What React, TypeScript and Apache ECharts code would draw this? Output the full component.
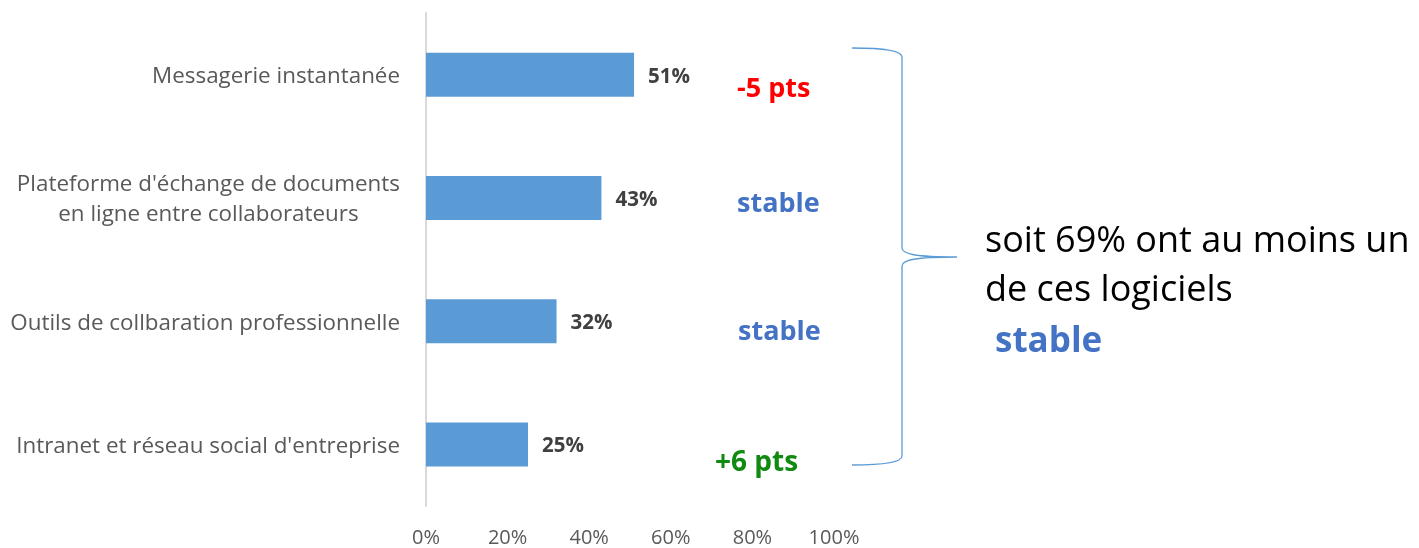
import React, { useEffect, useRef } from "react";
import * as echarts from "echarts";

const categories = [
  "Messagerie instantanée",
  "Plateforme d'échange de documents\nen ligne entre collaborateurs",
  "Outils de collbaration professionnelle",
  "Intranet et réseau social d'entreprise",
];
const values = [51, 43, 32, 25];
const changes = ["-5 pts", "stable", "stable", "+6 pts"];
const changeColors = ["#FF0000", "#4472C4", "#4472C4", "#118A11"];
const summaryLines = ["soit 69% ont au moins un", "de ces logiciels"];
const summaryChange = "stable";

const FONT = "'Open Sans', 'Noto Sans', sans-serif";

echarts.graphic.registerShape(
  "brace",
  echarts.graphic.extendPath(
    "M852,48 C880,48 902,50 902,57 L902,248 C902,254 915,257 957,257 C915,257 902,260 902,266 L902,456 C902,463 880,465 852,465",
    {}
  )
);

export default function App() {
  const ref = useRef<HTMLDivElement>(null);
  useEffect(() => {
    const chart = echarts.init(ref.current!, null, { renderer: "svg" });
    const changePos = [
      [737, 86],
      [737, 201],
      [738, 329],
      [715, 460],
    ];
    const changeSizes = [27, 27, 27, 28];
    chart.setOption({
      animation: false,
      grid: { left: 426, top: 13, width: 408, height: 493 },
      xAxis: {
        type: "value",
        min: 0,
        max: 100,
        interval: 20,
        axisLine: { show: false },
        axisTick: { show: false },
        splitLine: { show: false },
        axisLabel: {
          formatter: "{value}%",
          color: "#595959",
          fontSize: 20,
          lineHeight: 18,
          fontFamily: FONT,
          margin: 21,
        },
      },
      yAxis: {
        type: "category",
        inverse: true,
        data: categories,
        axisLine: { show: true, lineStyle: { color: "#D9D9D9", width: 2 } },
        axisTick: { show: false },
        axisLabel: {
          margin: 26,
          formatter: (v: string) =>
            v
              .split("\n")
              .map((l) => `{c|${l}}`)
              .join("\n"),
          rich: {
            c: {
              align: "center",
              color: "#595959",
              fontSize: 22.4,
              fontFamily: FONT,
              lineHeight: 30,
            },
          },
        },
      },
      series: [
        {
          type: "bar",
          data: values,
          barWidth: 44,
          itemStyle: { color: "#5B9BD5" },
          label: {
            show: true,
            position: "right",
            distance: 14,
            formatter: "{c}%",
            color: "#404040",
            fontWeight: "bold",
            fontSize: 20.5,
            fontFamily: FONT,
          },
        },
      ],
      graphic: [
        {
          type: "brace",
          shape: {},
          style: { fill: null, stroke: "#5B9BD5", lineWidth: 1.3 },
        },
        ...changes.map((t, i) => ({
          type: "text",
          x: changePos[i][0],
          y: changePos[i][1],
          style: {
            text: t,
            fill: changeColors[i],
            font: `bold ${changeSizes[i]}px ${FONT}`,
            textVerticalAlign: "middle",
            textAlign: "left",
          },
        })),
        ...summaryLines.map((t, i) => ({
          type: "text",
          x: 985,
          y: 238 + i * 49,
          style: {
            text: t,
            fill: "#000000",
            font: `36px ${FONT}`,
            textVerticalAlign: "middle",
            textAlign: "left",
          },
        })),
        {
          type: "text",
          x: 995,
          y: 338,
          style: {
            text: summaryChange,
            fill: "#4472C4",
            font: `bold 35px ${FONT}`,
            textVerticalAlign: "middle",
            textAlign: "left",
          },
        },
      ],
    });
    return () => chart.dispose();
  }, []);
  return (
    <div
      ref={ref}
      style={{ position: "fixed", left: 0, top: 0, width: 1419, height: 548 }}
    />
  );
}
